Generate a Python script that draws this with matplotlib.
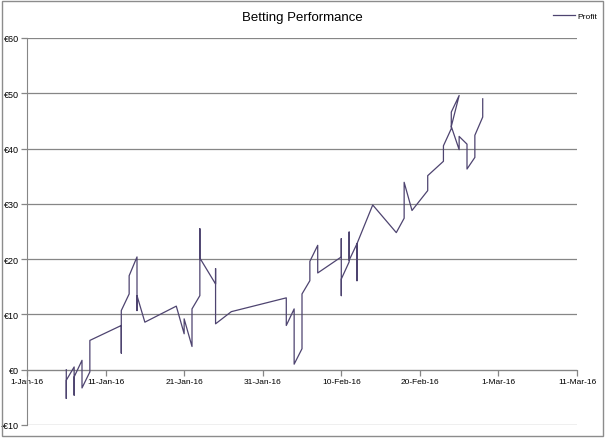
import matplotlib
matplotlib.use("Agg")
import matplotlib.pyplot as plt
import matplotlib.dates as mdates
from matplotlib.patches import Rectangle
from matplotlib.ticker import FuncFormatter, MultipleLocator
import numpy as np

# Data (in plotted order; several bets per date give vertical steps)
dates = [
    "2016-01-06", "2016-01-06", "2016-01-06",
    "2016-01-07", "2016-01-07", "2016-01-07",
    "2016-01-08", "2016-01-08",
    "2016-01-09", "2016-01-09",
    "2016-01-13", "2016-01-13", "2016-01-13",
    "2016-01-14", "2016-01-14",
    "2016-01-15", "2016-01-15", "2016-01-15",
    "2016-01-16",
    "2016-01-20",
    "2016-01-21", "2016-01-21",
    "2016-01-22", "2016-01-22",
    "2016-01-23", "2016-01-23", "2016-01-23",
    "2016-01-25", "2016-01-25", "2016-01-25",
    "2016-01-27",
    "2016-02-03", "2016-02-03",
    "2016-02-04", "2016-02-04",
    "2016-02-05", "2016-02-05",
    "2016-02-06", "2016-02-06",
    "2016-02-07", "2016-02-07",
    "2016-02-10", "2016-02-10", "2016-02-10", "2016-02-10",
    "2016-02-11", "2016-02-11", "2016-02-11",
    "2016-02-12", "2016-02-12", "2016-02-12",
    "2016-02-14",
    "2016-02-17",
    "2016-02-18", "2016-02-18",
    "2016-02-19",
    "2016-02-21", "2016-02-21",
    "2016-02-23", "2016-02-23",
    "2016-02-24", "2016-02-24",
    "2016-02-25",
    "2016-02-24",
    "2016-02-25", "2016-02-25",
    "2016-02-26", "2016-02-26",
    "2016-02-27", "2016-02-27",
    "2016-02-28", "2016-02-28",
]
profit = [
    0.0, -5.2, -1.9,
    0.5, -4.6, -1.3,
    1.7, -3.3,
    -0.4, 5.3,
    8.0, 3.0, 10.7,
    13.7, 17.0,
    20.4, 10.7, 13.4,
    8.6,
    11.5,
    6.5, 9.2,
    4.2, 11.0,
    13.4, 25.5, 20.2,
    15.5, 18.3, 8.3,
    10.5,
    13.0, 8.0,
    11.0, 1.0,
    3.8, 13.7,
    16.1, 19.6,
    22.5, 17.5,
    20.4, 23.7, 13.4, 16.4,
    19.5, 24.9, 19.8,
    22.8, 16.1, 22.8,
    29.8,
    24.8,
    27.4, 33.9,
    28.8,
    32.4, 35.1,
    37.7, 40.5,
    43.6, 46.6,
    49.6,
    44.0,
    39.8, 42.2,
    40.8, 36.3,
    38.4, 42.4,
    45.7, 49.0,
]
x_ticks = ["2016-01-01", "2016-01-11", "2016-01-21", "2016-01-31",
           "2016-02-10", "2016-02-20", "2016-03-01", "2016-03-11"]
series_name = "Profit"
title = "Betting Performance"

W, H = 605, 439
fig = plt.figure(figsize=(W / 100, H / 100), dpi=100)
fig.patch.set_facecolor("white")
fig.patches.append(Rectangle((2 / W, 2 / H), 1 - 4 / W, 1 - 4 / H, transform=fig.transFigure,
                             fill=False, edgecolor="#8c8c8c", linewidth=1.0))

ax = fig.add_axes([27 / W, 1 - 426 / H, (577 - 27) / W, (426 - 39) / H])
ax.set_facecolor("white")

fam = ["Liberation Sans", "DejaVu Sans"]
xd = np.array(dates, dtype="datetime64[D]")
ax.plot(xd, profit, color="#4e4470", linewidth=0.9, label=series_name, zorder=3)

ax.set_xlim(np.datetime64(x_ticks[0]), np.datetime64(x_ticks[-1]))
ax.set_ylim(-10, 60)
ax.yaxis.set_major_locator(MultipleLocator(10))
ax.set_xticks(np.array(x_ticks, dtype="datetime64[D]"))
ax.xaxis.set_major_formatter(mdates.DateFormatter("%-d-%b-%y"))

def euro(v, pos):
    return ("-€%d" % abs(v)) if v < 0 else ("€%d" % v)
ax.yaxis.set_major_formatter(FuncFormatter(euro))

ax.grid(axis="y", color="#868686", linewidth=0.9)
ax.set_axisbelow(True)
for s in ["top", "right"]:
    ax.spines[s].set_visible(False)
ax.spines["bottom"].set_position(("data", 0))
ax.spines["bottom"].set_color("#868686")
ax.spines["left"].set_color("#868686")
ax.spines["bottom"].set_zorder(2)
ax.tick_params(axis="both", colors="#868686", length=4, width=0.9, direction="out",
               labelsize=6, labelcolor="black", pad=2)
ax.tick_params(axis="y", labelsize=6.5)
for lab in ax.get_xticklabels() + ax.get_yticklabels():
    lab.set_family(fam)

fig.text(302 / W, 1 - 18 / H, title, ha="center", va="center", fontsize=9.5, family=fam)
fig.legend(loc="center right", bbox_to_anchor=(597 / W, 1 - 17 / H), frameon=False,
           prop={"family": fam, "size": 6}, handlelength=2.6, handletextpad=0.3,
           borderpad=0, borderaxespad=0)

fig.savefig("out.png", dpi=100, facecolor="white")
